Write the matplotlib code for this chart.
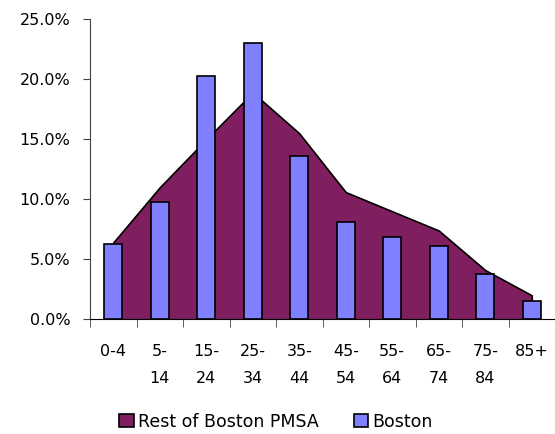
import matplotlib.pyplot as plt
import numpy as np

# age groups and shares (%)
groups = ["0-4", "5-\n14", "15-\n24", "25-\n34", "35-\n44", "45-\n54",
          "55-\n64", "65-\n74", "75-\n84", "85+"]
rest_pmsa = [6.4, 11.0, 15.0, 18.9, 15.5, 10.6, 9.0, 7.4, 4.1, 2.0]
boston = [6.3, 9.8, 20.3, 23.0, 13.6, 8.1, 6.9, 6.1, 3.8, 1.5]

plt.rcParams['font.family'] = ['DejaVu Sans']

fig = plt.figure(figsize=(5.55, 4.34), dpi=100)
ax = fig.add_axes([90/555, 114.7/434, 465/555, 300/434])

x = np.arange(len(groups))
ax.fill_between(x, rest_pmsa, 0, facecolor='#7F1F5F', edgecolor='black',
                linewidth=1.2, zorder=1, label="Rest of Boston PMSA")
ax.bar(x, boston, width=0.39, color='#8080FF', edgecolor='black',
       linewidth=1.2, zorder=2, label="Boston")

ax.set_xlim(-0.5, len(groups) - 0.5)
ax.set_ylim(0, 25)
ax.set_yticks(np.arange(0, 26, 5))
ax.set_yticklabels(["%.1f%%" % v for v in np.arange(0, 26, 5)], fontsize=11.5)
ax.set_xticks(x)
ax.set_xticklabels(groups, fontsize=11.5, linespacing=1.95)
ax.set_xticks(np.arange(-0.5, len(groups) - 0.5, 1), minor=True)
ax.tick_params(axis='x', which='major', length=0, pad=18)
ax.tick_params(axis='x', which='minor', length=6, direction='out', color='#444444')
ax.tick_params(axis='y', length=5, direction='out', color='#444444', pad=9)

ax.spines['top'].set_visible(False)
ax.spines['right'].set_visible(False)
ax.spines['left'].set_color('#444444')
ax.spines['bottom'].set_color('black')

ax.legend(loc='lower center', bbox_to_anchor=(276/555, 0.0),
          bbox_transform=fig.transFigure, ncol=2, frameon=False,
          fontsize=12.5, handlelength=0.85, handleheight=0.85,
          handletextpad=0.25, columnspacing=2.0, borderaxespad=0.1,
          borderpad=0.1)

fig.savefig("out.png", dpi=100)
